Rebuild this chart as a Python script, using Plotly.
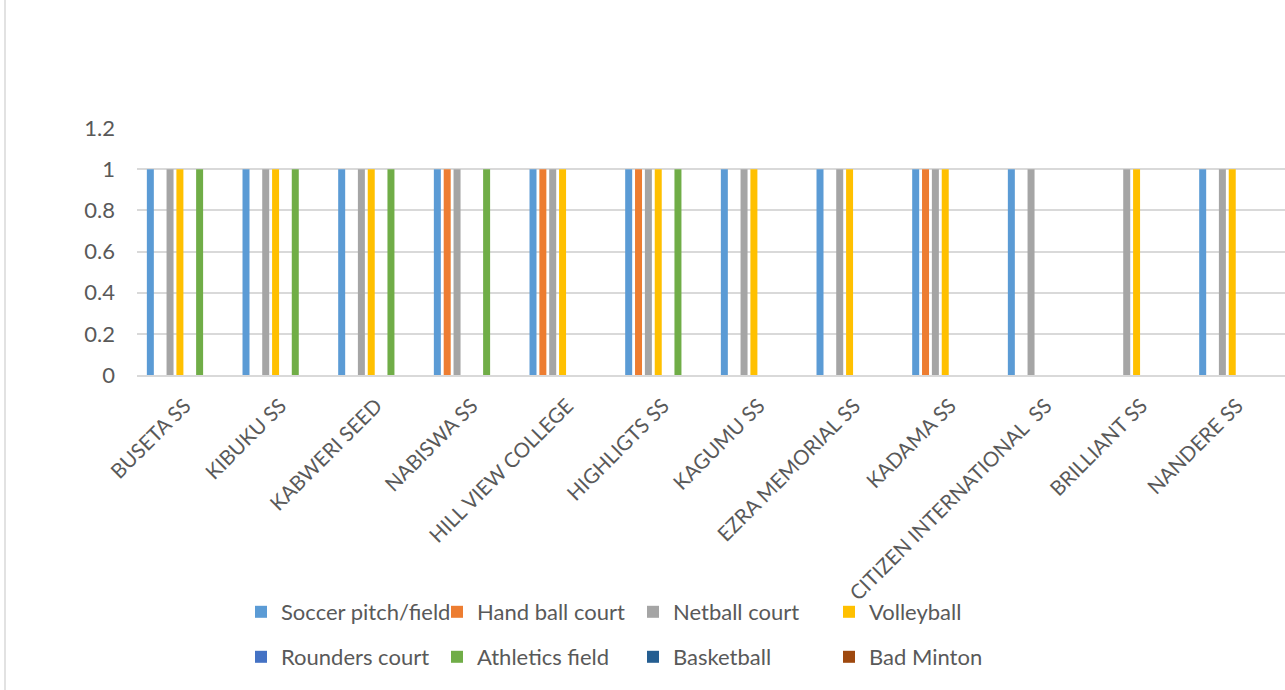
import plotly.graph_objects as go

schools = ["BUSETA SS", "KIBUKU SS", "KABWERI SEED", "NABISWA SS", "HILL VIEW COLLEGE",
           "HIGHLIGTS SS", "KAGUMU SS", "EZRA MEMORIAL SS", "KADAMA SS",
           "CITIZEN INTERNATIONAL  SS", "BRILLIANT SS", "NANDERE SS"]

soccer     = [1, 1, 1, 1, 1, 1, 1, 1, 1, 1, 0, 1]
handball   = [0, 0, 0, 1, 1, 1, 0, 0, 1, 0, 0, 0]
netball    = [1, 1, 1, 1, 1, 1, 1, 1, 1, 1, 1, 1]
volleyball = [1, 1, 1, 0, 1, 1, 1, 1, 1, 0, 1, 1]
rounders   = [0, 0, 0, 0, 0, 0, 0, 0, 0, 0, 0, 0]
athletics  = [1, 1, 1, 1, 0, 1, 0, 0, 0, 0, 0, 0]
basketball = [0, 0, 0, 0, 0, 0, 0, 0, 0, 0, 0, 0]
badminton  = [0, 0, 0, 0, 0, 0, 0, 0, 0, 0, 0, 0]

series_names = ["Soccer pitch/field", "Hand ball court", "Netball court", "Volleyball",
                "Rounders court", "Athletics field", "Basketball", "Bad Minton"]
series_values = [soccer, handball, netball, volleyball, rounders, athletics, basketball, badminton]
colors = ["#5B9BD5", "#ED7D31", "#A5A5A5", "#FFC000", "#4472C4", "#70AD47", "#255E91", "#9E480E"]

y_ticks = [0, 0.2, 0.4, 0.6, 0.8, 1, 1.2]
y_tick_text = ["0", "0.2", "0.4", "0.6", "0.8", "1", "1.2"]

# keep double spaces visible in SVG text
x_tick_text = [s.replace("  ", " \u00a0") for s in schools]

FONT = "Lato"
TXT = "#595959"

W, H = 1285, 690
ML, MR, MT, MB = 137, 0, 128, 315
PW, PH = W - ML - MR, H - MT - MB

def px_to_paper_x(px):
    return (px - ML) / PW

def px_to_paper_y(py):
    return (H - MB - py) / PH

fig = go.Figure()
for i, (name, vals, col) in enumerate(zip(series_names, series_values, colors)):
    fig.add_trace(go.Bar(
        x=schools, y=vals, name=name,
        marker=dict(color=col, line=dict(width=0)),
        legend="legend" if i < 4 else "legend2",
    ))

legend_common = dict(
    orientation="h",
    font=dict(family=FONT, size=22, color=TXT),
    entrywidth=151, entrywidthmode="pixels",
    bgcolor="rgba(0,0,0,0)", borderwidth=0,
    xanchor="left", yanchor="middle",
    traceorder="normal",
)

fig.update_layout(
    width=W, height=H,
    margin=dict(l=ML, r=MR, t=MT, b=MB, pad=0),
    paper_bgcolor="white", plot_bgcolor="white",
    barmode="group", bargap=0.176, bargroupgap=0.29,
    font=dict(family=FONT, color=TXT),
    legend=dict(x=px_to_paper_x(241), y=px_to_paper_y(612), **legend_common),
    legend2=dict(x=px_to_paper_x(241), y=px_to_paper_y(657), **legend_common),
    xaxis=dict(
        tickangle=-45, tickfont=dict(family=FONT, size=20.5, color=TXT),
        tickmode="array", tickvals=schools, ticktext=x_tick_text,
        showgrid=False, showline=True, linecolor="#D9D9D9", linewidth=1.5,
        ticks="", ticklabelstandoff=9, automargin=False,
    ),
    yaxis=dict(
        range=[0, 1.2], tickvals=y_ticks, ticktext=y_tick_text,
        tickfont=dict(family=FONT, size=22, color=TXT),
        showgrid=True, gridcolor="#D9D9D9", gridwidth=1.5,
        zeroline=False, showline=False, ticks="", ticklabelstandoff=21,
        automargin=False,
    ),
    shapes=[dict(type="line", xref="paper", yref="paper",
                 x0=px_to_paper_x(5), x1=px_to_paper_x(5),
                 y0=px_to_paper_y(0), y1=px_to_paper_y(H),
                 line=dict(color="#D9D9D9", width=1.5))],
)

fig.write_html("out.html")
